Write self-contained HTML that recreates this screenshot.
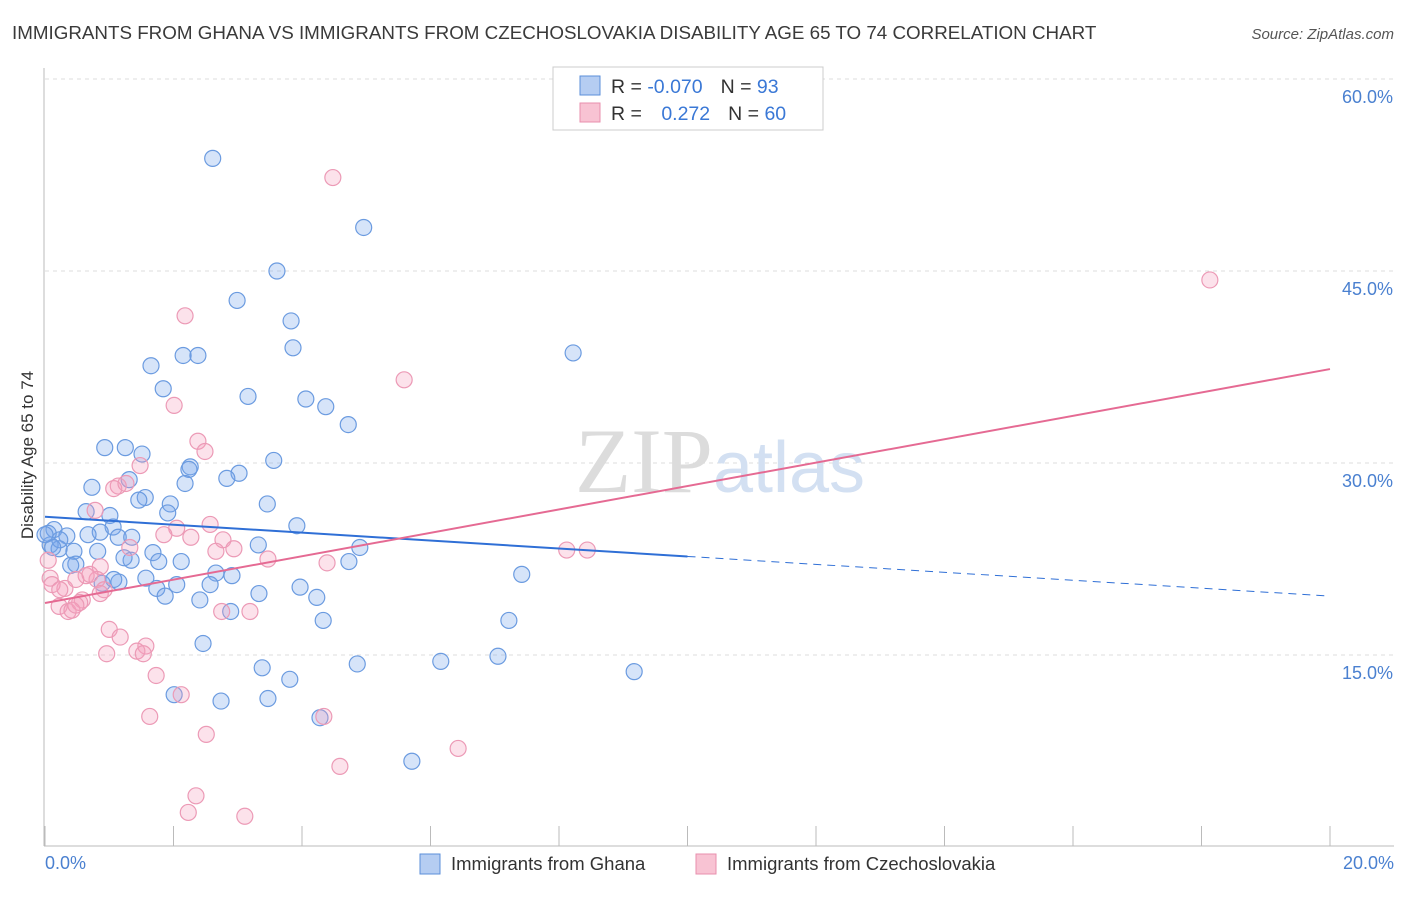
<!DOCTYPE html>
<html><head><meta charset="utf-8">
<style>
body{margin:0;background:#fff;font-family:"Liberation Sans",sans-serif;}
svg text{font-family:"Liberation Sans",sans-serif;}
</style></head>
<body>
<svg id="chart" width="1406" height="892" xmlns="http://www.w3.org/2000/svg">
<text x="12" y="39" font-size="18.8" fill="#3a3a3a">IMMIGRANTS FROM GHANA VS IMMIGRANTS FROM CZECHOSLOVAKIA DISABILITY AGE 65 TO 74 CORRELATION CHART</text>
<text x="1394" y="39" font-size="15" fill="#555" text-anchor="end" font-style="italic">Source: ZipAtlas.com</text>
<g id="grid"></g>
<text x="720" y="492" font-size="92" text-anchor="middle"><tspan fill="#dcdcdc" style="font-family:'Liberation Serif',serif">ZIP</tspan><tspan fill="#d3e0f2" font-size="72">atlas</tspan></text>
<g id="marks"></g>
<text transform="translate(33,455) rotate(-90)" font-size="17" fill="#333" text-anchor="middle">Disability Age 65 to 74</text>
<text x="45" y="869" font-size="18" fill="#4a80d0">0.0%</text>
<text x="1394" y="869" font-size="18" fill="#4a80d0" text-anchor="end">20.0%</text>
<g>
<rect x="553" y="67" width="270" height="63" fill="#fff" stroke="#ccc"/>
<rect x="580" y="76" width="20" height="19" fill="#b5cdf2" stroke="#5b8fd9"/>
<rect x="580" y="103" width="20" height="19" fill="#f8c3d3" stroke="#e88fae"/>
<text x="611" y="93" font-size="19.5" fill="#333">R = <tspan fill="#3a78d6">-0.070</tspan><tspan dx="18">N = </tspan><tspan fill="#3a78d6">93</tspan></text>
<text x="611" y="120" font-size="19.5" fill="#333">R = <tspan fill="#3a78d6" dx="14">0.272</tspan><tspan dx="18">N = </tspan><tspan fill="#3a78d6">60</tspan></text>
</g>
<g>
<rect x="420" y="854" width="20" height="20" fill="#b5cdf2" stroke="#5b8fd9"/>
<text x="451" y="870" font-size="18.5" fill="#333">Immigrants from Ghana</text>
<rect x="696" y="854" width="20" height="20" fill="#f8c3d3" stroke="#e88fae"/>
<text x="727" y="870" font-size="18.5" fill="#333">Immigrants from Czechoslovakia</text>
</g>
</svg>
<script>
const yTicks=[15,30,45,60];
const yTickLabels=["15.0%","30.0%","45.0%","60.0%"];
const xTicks=[0,2,4,6,8,10,12,14,16,18,20];
const ghanaX=[2.61,4.96,3.61,2.99,3.83,3.86,2.15,2.38,8.22,1.65,1.84,3.16,4.06,4.37,4.72,0.93,1.25,1.51,2.26,2.24,3.56,3.02,2.83,2.18,1.31,0.73,1.56,1.46,1.95,3.46,0.64,1.01,1.91,3.92,1.06,0.86,0.14,0.34,0.67,1.14,1.35,0.08,0.22,0.45,0.82,1.68,3.32,4.90,4.73,2.12,1.77,1.34,0.48,0.40,1.23,2.66,2.91,7.42,1.57,1.15,0.89,1.07,2.05,2.57,3.97,1.74,1.87,3.33,4.23,2.41,2.89,4.33,7.22,7.05,6.16,4.86,2.46,3.38,3.81,2.01,3.47,2.74,4.28,5.71,9.17,0.23,0.05,0.12,0.0];
const ghanaY=[53.8,48.4,45.0,42.7,41.1,39.0,38.4,38.4,38.6,37.6,35.8,35.2,35.0,34.4,33.0,31.2,31.2,30.7,29.7,29.5,30.2,29.2,28.8,28.4,28.7,28.1,27.3,27.1,26.8,26.8,26.2,25.9,26.1,25.1,25.0,24.6,24.8,24.3,24.4,24.2,24.2,23.6,23.3,23.1,23.1,23.0,23.6,23.4,22.3,22.3,22.3,22.4,22.1,22.0,22.6,21.4,21.2,21.3,21.0,20.7,20.6,20.9,20.5,20.5,20.3,20.2,19.6,19.8,19.5,19.3,18.4,17.7,17.7,14.9,14.5,14.3,15.9,14.0,13.1,11.9,11.6,11.4,10.1,6.7,13.7,24.0,24.5,23.4,24.4];
const czechX=[4.48,18.13,2.18,5.59,2.01,2.38,2.49,1.48,1.14,1.07,1.26,2.57,0.78,2.05,1.85,2.77,2.27,2.66,3.47,2.94,1.32,4.39,8.12,8.44,0.08,0.31,0.86,0.81,0.64,0.92,0.48,0.22,0.36,0.58,0.54,3.19,2.75,1.00,1.17,1.57,1.43,1.53,0.96,1.73,2.12,1.63,4.34,2.51,6.43,4.59,2.35,2.23,3.11,0.11,0.42,0.86,0.48,0.05,0.23,0.70];
const czechY=[52.3,44.3,41.5,36.5,34.5,31.7,30.9,29.8,28.2,28.0,28.4,25.2,26.3,24.9,24.4,24.0,24.2,23.1,22.5,23.3,23.4,22.2,23.2,23.2,21.0,20.2,21.9,20.9,21.2,20.1,20.9,18.8,18.4,19.3,19.1,18.4,18.4,17.0,16.4,15.7,15.3,15.1,15.1,13.4,11.9,10.2,10.2,8.8,7.7,6.3,4.0,2.7,2.4,20.5,18.5,19.8,18.9,22.4,20.1,21.3];
const ghanaTrend=[25.8,19.6];
const czechTrend=[19.06,37.34];
const ghanaSolidEnd=10;

const NS="http://www.w3.org/2000/svg";
const X=v=>45+v*64.25, Y=v=>847-v*12.8;
function mk(tag,attrs,parent){const e=document.createElementNS(NS,tag);for(const k in attrs)e.setAttribute(k,attrs[k]);parent.appendChild(e);return e;}
const gridG=document.getElementById('grid'), marksG=document.getElementById('marks');
yTicks.forEach((t,i)=>{
 const l=mk('line',{x1:45,x2:1394,y1:Y(t),y2:Y(t),stroke:'#ddd','stroke-dasharray':'4,4'},gridG);
 
 
 const tx=mk('text',{x:1393,y:Y(t)+24,'font-size':18,fill:'#4a80d0','text-anchor':'end'},gridG);
 tx.textContent=yTickLabels[i];
 
 
});
const yAxisLine=mk('line',{x1:44,x2:44,y1:68,y2:846,stroke:'#bbb'},gridG);


const xAxisLine=mk('line',{x1:44,x2:1394,y1:846,y2:846,stroke:'#bbb'},gridG);


xTicks.forEach(t=>{
 const l=mk('line',{x1:X(t),x2:X(t),y1:826,y2:846,stroke:'#bbb'},gridG);
 
 
});
function pts(xs,ys,fill,stroke,name){
 xs.forEach((x,i)=>{
  const c=mk('circle',{cx:X(x),cy:Y(ys[i]),r:8,fill:fill,stroke:stroke,'stroke-width':1.2},marksG);
  
  
 });
}
pts(ghanaX,ghanaY,'rgba(120,165,235,0.3)','#6b9be0','ghana-point');
pts(czechX,czechY,'rgba(245,160,190,0.3)','#ec9ab6','czech-point');
const gAt=x=>ghanaTrend[0]+(ghanaTrend[1]-ghanaTrend[0])*x/20;
const g1=mk('line',{x1:X(0),y1:Y(gAt(0)),x2:X(ghanaSolidEnd),y2:Y(gAt(ghanaSolidEnd)),stroke:'#2f6fd6','stroke-width':2},marksG);


const g2=mk('line',{x1:X(ghanaSolidEnd),y1:Y(gAt(ghanaSolidEnd)),x2:X(20),y2:Y(gAt(20)),stroke:'#2f6fd6','stroke-width':1,'stroke-dasharray':'8,6'},marksG);


const p1=mk('line',{x1:X(0),y1:Y(czechTrend[0]),x2:X(20),y2:Y(czechTrend[1]),stroke:'#e56a93','stroke-width':2},marksG);


</script>
</body></html>
